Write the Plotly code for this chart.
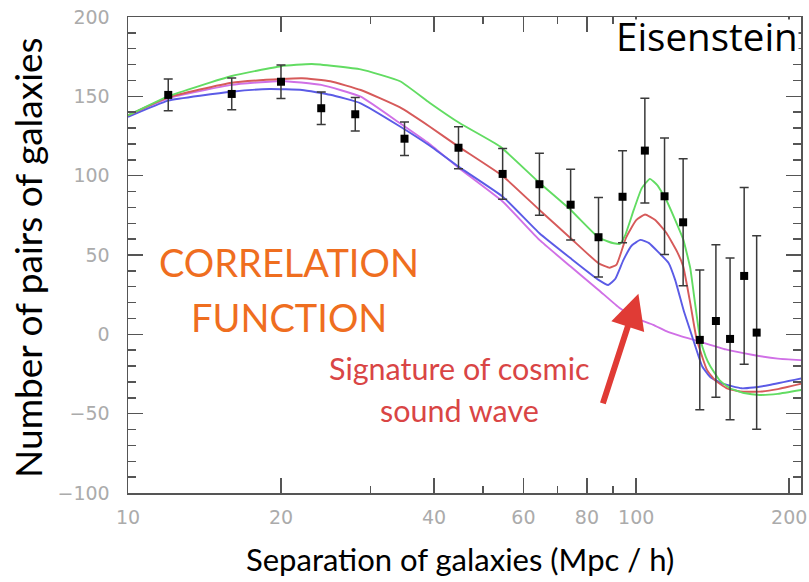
import plotly.graph_objects as go
import math

# ---- data points (separation Mpc/h, pair count, error) ----
sep = [12, 16, 20, 24, 28, 35, 44.7, 54.6, 64.5, 74.3, 84.3, 94, 104, 113.7, 123.7, 133.4, 143.5, 153, 163.1, 172.6]
pairs = [150.9, 151.5, 159.2, 142.5, 138.7, 123.3, 117.6, 101.1, 94.6, 81.7, 61.2, 86.7, 115.8, 87, 70.6, -3.5, 8.4, -2.9, 36.8, 1.1]
err = [10, 10, 10.6, 10.3, 10.6, 10.6, 13.3, 16, 19.6, 22.3, 25, 29, 33, 36.7, 40, 44, 48, 51, 55.7, 61]

# ---- model curves ----
green_x = [10, 12, 16, 20, 23, 28.7, 34.3, 39.2, 45, 54, 64.5, 74.3, 84.3, 88, 90.3, 92.9, 95, 98.9, 102.5, 106.4, 110, 114.6, 119, 123.7, 127.7, 130.5, 133.4, 137, 140, 146, 153, 163, 175, 190, 212]
green_y = [138, 150, 162.8, 169, 170.4, 167, 159.5, 146, 133, 118.3, 95.5, 78.4, 61, 58.5, 57.4, 57, 62, 78.4, 92, 98, 94, 84.7, 73, 60, 42, 20, -1.5, -14, -20.3, -29, -34, -37, -38.2, -37.5, -35]

red_x = [10, 12, 16, 20, 22, 25, 28.7, 34.3, 39.2, 44.7, 54.6, 64.5, 74.3, 84.3, 88.7, 91.5, 95.5, 100, 104.1, 109, 114.6, 120.4, 123.7, 127.7, 131.2, 134.5, 137.8, 143, 150.8, 160, 175.3, 190, 212]
red_y = [138, 149.4, 158.6, 160.9, 161.4, 159.5, 154, 143, 131, 118.3, 99.8, 78.4, 60.6, 44.8, 42, 44, 61, 72, 75.5, 72, 64, 52, 43, 20, -1.5, -13, -22.4, -29, -34, -36, -36.1, -34.5, -31]

blue_x = [10, 12, 16, 19, 22, 25, 28.7, 34.3, 39.2, 44.7, 54.6, 64.5, 74.3, 84.3, 88.1, 91, 94.4, 98, 101.9, 106, 111.1, 115.8, 119.3, 124, 128.9, 134.9, 140, 147.5, 161.2, 170, 182.9, 212]
blue_y = [137, 147.3, 152.9, 154.6, 154, 151, 145.6, 131, 119, 105.7, 86.8, 63.7, 47.9, 34.3, 31.1, 35, 46.9, 56, 59.5, 57.5, 51.1, 45, 34.3, 15, -1.5, -20.3, -27, -30.9, -34, -33.5, -31.9, -27.7]

mag_x = [10, 12, 16, 20, 24, 28.7, 34.3, 39.2, 44.7, 54.6, 64.5, 74.3, 84.3, 92.9, 100, 108, 114.6, 122, 133.4, 150, 170, 190, 212]
mag_y = [138, 148.8, 157.2, 159.7, 157.2, 149.8, 133, 120, 105, 83.7, 59.5, 42.7, 28, 16.4, 10, 6, 2, -1, -4.6, -9.5, -13, -15.3, -16.3]

x_ticks = [10, 20, 40, 60, 80, 100, 200]
x_minor = [30, 50, 70, 90]
y_ticks = [-100, -50, 0, 50, 100, 150, 200]
y_labels = ["\u2212100", "\u221250", "0", "50", "100", "150", "200"]

fig = go.Figure()
for xs, ys, col in [(mag_x, mag_y, "#d070e6"), (blue_x, blue_y, "#5b5be6"),
                    (red_x, red_y, "#d65a5a"), (green_x, green_y, "#62dc62")]:
    fig.add_trace(go.Scatter(x=xs, y=ys, mode="lines",
                             line=dict(color=col, width=1.9, shape="spline", smoothing=0.4),
                             showlegend=False, hoverinfo="skip"))

fig.add_trace(go.Scatter(
    x=sep, y=pairs, mode="markers",
    marker=dict(symbol="square", size=8, color="black"),
    error_y=dict(type="data", array=err, visible=True, color="#3a3a3a", thickness=1.5, width=4.5),
    showlegend=False))

axcol = "#555555"
tickfont = dict(family="DejaVu Sans", size=19, color="#ababab")
fig.update_xaxes(type="log", range=[1, math.log10(211)], tickmode="array", tickvals=x_ticks,
                 ticktext=[str(v) for v in x_ticks], ticks="inside", ticklen=15, tickwidth=1.5,
                 tickcolor=axcol, showline=True, linecolor=axcol, linewidth=1.5, mirror="allticks",
                 showgrid=False, zeroline=False, tickfont=tickfont, ticklabelstandoff=7,
                 automargin=False,
                 minor=dict(tickmode="array", tickvals=x_minor, ticks="inside", ticklen=7,
                            tickwidth=1.5, tickcolor=axcol, showgrid=False))
fig.update_yaxes(range=[-100, 200], tickmode="array", tickvals=y_ticks, ticktext=y_labels,
                 ticks="inside", ticklen=15, tickwidth=1.5,
                 tickcolor=axcol, showline=True, linecolor=axcol, linewidth=1.5, mirror="allticks",
                 showgrid=False, zeroline=False, tickfont=tickfont, ticklabelstandoff=13,
                 automargin=False,
                 minor=dict(dtick=10, tick0=0, ticks="inside", ticklen=8, tickwidth=1.5,
                            tickcolor=axcol, showgrid=False))

font = "Lato"
ann = [
    dict(text="Eisenstein", x=0.9975, y=0.9958, xanchor="right", yanchor="top", height=32, valign="middle",
         font=dict(family="Open Sans", size=38.5, color="black"), bgcolor="white", borderpad=0),
    dict(text="CORRELATION", x=0.239, y=0.486, xanchor="center", yanchor="middle",
         font=dict(family=font, size=38, color="#ef6e1f")),
    dict(text="FUNCTION", x=0.239, y=0.370, xanchor="center", yanchor="middle",
         font=dict(family=font, size=38, color="#ef6e1f")),
    dict(text="Signature of cosmic", x=0.4933, y=0.262, xanchor="center", yanchor="middle",
         font=dict(family=font, size=30.5, color="#d94545")),
    dict(text="sound wave", x=0.4933, y=0.174, xanchor="center", yanchor="middle",
         font=dict(family=font, size=30.5, color="#d94545")),
    dict(text="Separation of galaxies (Mpc / h)", x=0.4933, y=-0.139, xanchor="center", yanchor="middle",
         font=dict(family=font, size=31, color="black")),
    dict(text="Number of pairs of galaxies", x=-0.1485, y=0.494, xanchor="center", yanchor="middle",
         textangle=-90, font=dict(family=font, size=37, color="black")),
]
for a in ann:
    a.update(xref="paper", yref="paper", showarrow=False)
    fig.add_annotation(**a)

# arrow pointing at the bump
fig.add_annotation(x=math.log10(101.0), y=25.5, xref="x", yref="y", ax=-36, ay=111, text="",
                   showarrow=True, arrowhead=2, arrowsize=1.15, arrowwidth=6, arrowcolor="#e03b35")

fig.update_layout(width=809, height=582, margin=dict(l=128, r=8, t=17, b=89),
                  paper_bgcolor="white", plot_bgcolor="white")
fig.write_html("out.html", config={"displayModeBar": False, "staticPlot": True},
               post_script="document.body.style.margin='0';document.body.style.overflow='hidden';")
